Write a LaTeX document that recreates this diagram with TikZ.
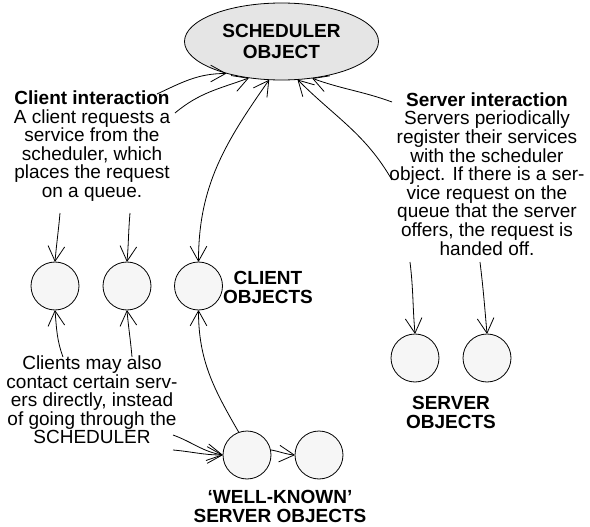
\documentclass[tikz,border=0pt]{standalone}
\usepackage{fontspec}
\setmainfont{Liberation Sans}
\usepackage{tikz}
\usetikzlibrary{shapes.geometric, arrows.meta}
\definecolor{schedbg}{rgb}{0.90,0.90,0.90}
\definecolor{objbg}{rgb}{0.965,0.965,0.965}

\begin{document}
\begin{tikzpicture}[x=10pt, y=10pt,
    hub/.style={ellipse, draw, line width=0.8pt, fill=schedbg, minimum width=194pt, minimum height=77pt, inner sep=0pt, align=center, font=\fontsize{19}{21}\selectfont\bfseries},
    obj/.style={circle, draw, line width=0.8pt, fill=objbg, minimum size=48pt, inner sep=0pt},
    lbl/.style={align=center, inner sep=0pt, font=\fontsize{19}{19}\selectfont\bfseries},
    note/.style={align=center, inner sep=0pt, font=\fontsize{19}{18.6}\selectfont},
    arrow/.style={-{Straight Barb[angle=58:17pt, line width=0.8pt, round]}, line width=0.8pt},
    both/.style={{Straight Barb[angle=58:17pt, line width=0.8pt, round]}-{Straight Barb[angle=58:17pt, line width=0.8pt, round]}, line width=0.8pt}
]
\useasboundingbox (0,0) rectangle (59,-52.7);

% scheduler and the objects round it
\node[hub] (sched) at (28.15,-4.15) {SCHEDULER\\OBJECT};
\node[obj] (c1) at (5.5,-28.6) {};
\node[obj] (c2) at (12.7,-28.6) {};
\node[obj] (c3) at (19.85,-28.6) {};
\node[obj] (s1) at (41.5,-35.8) {};
\node[obj] (s2) at (48.7,-35.8) {};
\node[obj] (w1) at (24.7,-45.5) {};
\node[obj] (w2) at (31.9,-45.5) {};

% group labels
\node[lbl] (clientlbl) at (26.8,-28.75) {CLIENT\\OBJECTS};
\node[lbl] (serverlbl) at (45.1,-41.25) {SERVER\\OBJECTS};
\node[lbl] (wklbl) at (28.0,-50.6) {`WELL-KNOWN'\\SERVER OBJECTS};

% notes
\node[note] (clientnote) at (9.2,-14.6) {\textbf{Client interaction}\\A client requests a\\service from the\\scheduler, which\\places the request\\on a queue.};
\node[note] (servernote) at (48.7,-17.4) {\textbf{Server interaction}\\Servers periodically\\register their services\\with the scheduler\\object. If there is a ser-\\vice request on the\\queue that the server\\offers, the request is\\handed off.};
\node[note] (directnote) at (9.2,-40.0) {Clients may also\\contact certain serv-\\ers directly, instead\\of going through the\\SCHEDULER};

% loose ends next to the notes
\coordinate (ci1) at (15.7,-9.4);
\coordinate (ci2) at (17.5,-11.3);
\coordinate (cq1) at (6.0,-21.3);
\coordinate (cq2) at (13.0,-21.3);
\coordinate (si1) at (39.2,-10.2);
\coordinate (si2) at (39.2,-18.0);
\coordinate (sq1) at (41.0,-26.2);
\coordinate (sq2) at (48.0,-26.2);
\coordinate (dc1) at (6.3,-35.7);
\coordinate (dc2) at (13.2,-35.7);
\coordinate (dw1) at (17.3,-43.5);
\coordinate (dw2) at (17.3,-45.0);

% client side
\draw[arrow] (ci1) to[out=25,in=180] (sched.210);
\draw[arrow] (ci2) to[out=40,in=200] (sched.228);
\draw[both] (sched.252) to[out=235,in=90] (c3.north);
\draw[arrow] (cq1) to[out=-95,in=85] (c1.north);
\draw[arrow] (cq2) to[out=-95,in=85] (c2.north);

% server side
\draw[arrow] (si1) to[out=160,in=-20] (sched.310);
\draw[arrow] (si2) to[out=120,in=-45] (sched.293);
\draw[arrow] (sq1) to[out=-83,in=95] (s1.north);
\draw[arrow] (sq2) to[out=-83,in=95] (s2.north);

% direct calls
\draw[arrow] (dc1) to[out=110,in=-85] (c1.south);
\draw[arrow] (dc2) to[out=95,in=-85] (c2.south);
\draw[arrow] (dw1) to[out=-20,in=170] (w1.west);
\draw[arrow] (dw2) to[out=-5,in=180] (w1.west);
\draw[arrow] (w1.110) to[out=120,in=-90] (c3.south);
\draw[arrow] (w1.12) to[out=-10,in=175] (w2.west);
\end{tikzpicture}
\end{document}
